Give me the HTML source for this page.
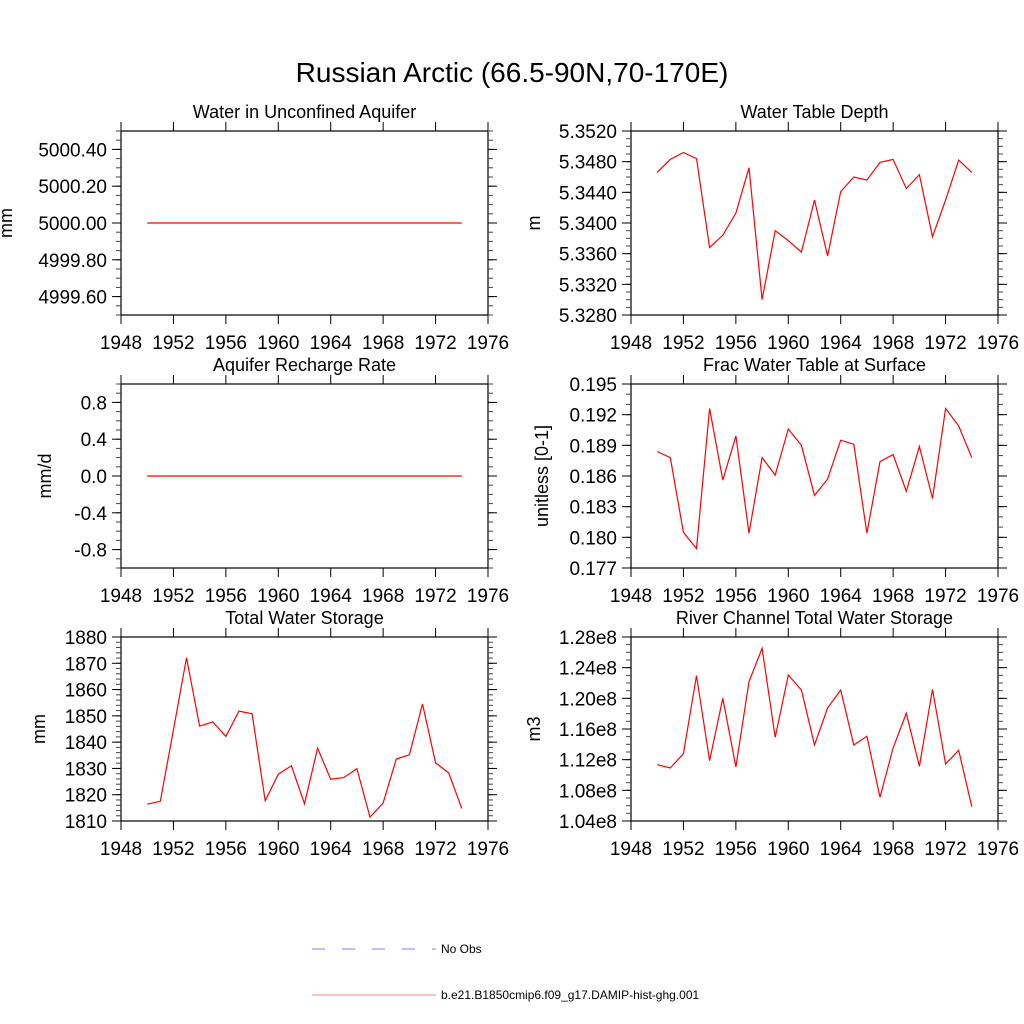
<!DOCTYPE html>
<html><head><meta charset="utf-8"><style>
body{margin:0;background:#fff;}
svg{display:block;font-family:"Liberation Sans",Arial,sans-serif;}
</style></head><body>
<svg id="chart" width="1024" height="1024" viewBox="0 0 1024 1024">
<text x="512" y="82" font-size="28" text-anchor="middle">Russian Arctic (66.5-90N,70-170E)</text>
<g>
<line x1="312" y1="949" x2="436" y2="949" stroke="#7f7fff" stroke-width="1" stroke-dasharray="13,17"/>
<text x="441" y="953" font-size="12">No Obs</text>
<line x1="312" y1="995" x2="436" y2="995" stroke="#ff8080" stroke-width="1"/>
<text x="441" y="999" font-size="12">b.e21.B1850cmip6.f09_g17.DAMIP-hist-ghg.001</text>
</g>
</svg>
<script>
const years = [1950,1951,1952,1953,1954,1955,1956,1957,1958,1959,1960,1961,1962,1963,1964,1965,1966,1967,1968,1969,1970,1971,1972,1973,1974];
const xTicks = [1948,1952,1956,1960,1964,1968,1972,1976];
const aquiferValues = [5000,5000,5000,5000,5000,5000,5000,5000,5000,5000,5000,5000,5000,5000,5000,5000,5000,5000,5000,5000,5000,5000,5000,5000,5000];
const aquiferTicks = ["4999.60","4999.80","5000.00","5000.20","5000.40"];
const wtdValues = [5.3466,5.3483,5.3492,5.3484,5.3368,5.3384,5.3413,5.3472,5.3300,5.3390,5.3377,5.3362,5.3430,5.3357,5.3441,5.3460,5.3456,5.3479,5.3483,5.3445,5.3463,5.3382,5.3430,5.3482,5.3466];
const wtdTicks = ["5.3280","5.3320","5.3360","5.3400","5.3440","5.3480","5.3520"];
const rechargeValues = [0,0,0,0,0,0,0,0,0,0,0,0,0,0,0,0,0,0,0,0,0,0,0,0,0];
const rechargeTicks = ["-0.8","-0.4","0.0","0.4","0.8"];
const fracValues = [0.1884,0.1878,0.1805,0.1789,0.1926,0.1856,0.1899,0.1804,0.1878,0.1861,0.1906,0.1890,0.1841,0.1857,0.1895,0.1891,0.1804,0.1874,0.1881,0.1845,0.1889,0.1838,0.1926,0.1909,0.1878];
const fracTicks = ["0.177","0.180","0.183","0.186","0.189","0.192","0.195"];
const twsValues = [1816.4,1817.5,1844.6,1872.1,1846.1,1847.7,1842.2,1851.8,1850.8,1817.7,1827.8,1831.0,1816.6,1837.7,1825.9,1826.5,1829.9,1811.5,1816.8,1833.6,1835.2,1854.5,1832.1,1828.3,1814.8];
const twsTicks = ["1810","1820","1830","1840","1850","1860","1870","1880"];
const riverValues = [1.1134,1.1091,1.1278,1.2295,1.1187,1.2000,1.1104,1.2217,1.2653,1.1492,1.2304,1.2109,1.1391,1.1874,1.2109,1.1391,1.1505,1.0709,1.1352,1.1805,1.1113,1.2118,1.1143,1.1322,1.0587];
const riverTicks = ["1.04e8","1.08e8","1.12e8","1.16e8","1.20e8","1.24e8","1.28e8"];

const NS="http://www.w3.org/2000/svg";
const svg=document.getElementById('chart');
function mk(tag,attrs,parent){const e=document.createElementNS(NS,tag);for(const k in attrs)e.setAttribute(k,attrs[k]);parent.appendChild(e);return e;}

const panels=[
 {name:'water-aquifer',title:'Water in Unconfined Aquifer',ylab:'mm',x0:121,y0:131,vals:aquiferValues,ticks:aquiferTicks,ymin:4999.5,ymax:5000.5,minor:0.05,lx:12},
 {name:'water-table-depth',title:'Water Table Depth',ylab:'m',x0:631,y0:131,vals:wtdValues,ticks:wtdTicks,ymin:5.328,ymax:5.352,minor:0.001,lx:540},
 {name:'aquifer-recharge',title:'Aquifer Recharge Rate',ylab:'mm/d',x0:121,y0:384,vals:rechargeValues,ticks:rechargeTicks,ymin:-1,ymax:1,minor:0.1,lx:51},
 {name:'frac-water-table',title:'Frac Water Table at Surface',ylab:'unitless [0-1]',x0:631,y0:384,vals:fracValues,ticks:fracTicks,ymin:0.177,ymax:0.195,minor:0.001,lx:548},
 {name:'total-water-storage',title:'Total Water Storage',ylab:'mm',x0:121,y0:637,vals:twsValues,ticks:twsTicks,ymin:1810,ymax:1880,minor:2,lx:45},
 {name:'river-storage',title:'River Channel Total Water Storage',ylab:'m3',x0:631,y0:637,vals:riverValues,ticks:riverTicks,ymin:1.04,ymax:1.28,minor:0.01,lx:540}
];
const W=367,H=184;
panels.forEach(p=>{
 const g=mk('g',{},svg);
 
 
 const xs=v=>p.x0+(v-1948)/28*W;
 const ys=v=>p.y0+H-(v-p.ymin)/(p.ymax-p.ymin)*H;
 const r=mk('rect',{x:p.x0,y:p.y0,width:W,height:H,fill:'none',stroke:'#000','stroke-width':1.2},g);
 
 
 const t=mk('text',{x:p.x0+W/2,y:p.y0-13,'font-size':18,'text-anchor':'middle'},g);
 
 
 t.textContent=p.title;
 const yl=mk('text',{x:p.lx,y:p.y0+H/2,'font-size':18,'text-anchor':'middle',transform:`rotate(-90 ${p.lx} ${p.y0+H/2})`},g);
 
 
 yl.textContent=p.ylab;
 xTicks.forEach(v=>{
  const x=xs(v);
  mk('line',{x1:x,y1:p.y0+H,x2:x,y2:p.y0+H+9,stroke:'#000'},g);
  mk('line',{x1:x,y1:p.y0,x2:x,y2:p.y0-9,stroke:'#000'},g);
  const tl=mk('text',{x:x,y:p.y0+H+34,'font-size':19,'text-anchor':'middle'},g);
  
  
  tl.textContent=v;
 });
 const n=Math.round((p.ymax-p.ymin)/p.minor);
 for(let i=0;i<=n;i++){
  const y=ys(p.ymin+i*p.minor);
  mk('line',{x1:p.x0,y1:y,x2:p.x0-5,y2:y,stroke:'#444'},g);
  mk('line',{x1:p.x0+W,y1:y,x2:p.x0+W+5,y2:y,stroke:'#444'},g);
 }
 p.ticks.forEach(s=>{
  const v=parseFloat(s.replace('e8',''));
  const y=ys(v);
  mk('line',{x1:p.x0,y1:y,x2:p.x0-9,y2:y,stroke:'#000'},g);
  mk('line',{x1:p.x0+W,y1:y,x2:p.x0+W+9,y2:y,stroke:'#000'},g);
  const tl=mk('text',{x:p.x0-14,y:y+7,'font-size':19,'text-anchor':'end'},g);
  
  
  tl.textContent=s;
 });
 const d=p.vals.map((v,i)=>(i?'L':'M')+xs(years[i]).toFixed(1)+','+ys(v).toFixed(1)).join(' ');
 const path=mk('path',{d:d,fill:'none',stroke:'#f00','stroke-width':1.2},g);
 
 
});
</script>
</body></html>
